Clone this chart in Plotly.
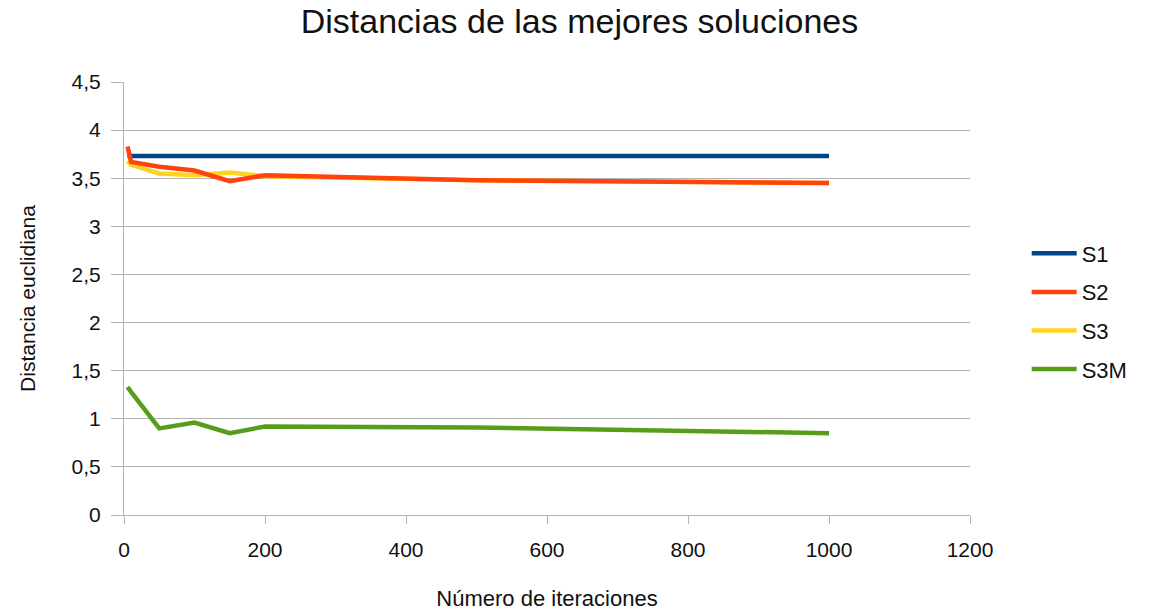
import plotly.graph_objects as go

x_vals = [5, 10, 50, 100, 150, 200, 500, 1000]
s1 = [3.73, 3.73, 3.73, 3.73, 3.73, 3.73, 3.73, 3.73]
s2 = [3.83, 3.67, 3.62, 3.58, 3.47, 3.53, 3.48, 3.45]
s3 = [3.68, 3.64, 3.55, 3.53, 3.56, 3.52, 3.48, 3.45]
s3m = [1.33, 1.28, 0.90, 0.96, 0.85, 0.92, 0.91, 0.85]

names = ["S1", "S2", "S3", "S3M"]
colors = ["#004586", "#ff420e", "#ffd320", "#579d1c"]
series = [s1, s2, s3, s3m]

fig = go.Figure()
# draw order: S1, S3, S2 (S2 over S3), S3M
for i in [0, 2, 1, 3]:
    fig.add_trace(go.Scatter(x=x_vals, y=series[i], mode="lines", name=names[i],
                             legendgroup=names[i], legendrank=i,
                             line=dict(color=colors[i], width=4.5)))

fig.update_layout(
    width=1159, height=615,
    paper_bgcolor="white", plot_bgcolor="white",
    font=dict(family="Liberation Sans, Arial, sans-serif", color="#000000"),
    title=dict(text="Distancias de las mejores soluciones", x=0.5, xanchor="center",
               y=0.966, yanchor="middle", font=dict(size=34, color="#111111")),
    margin=dict(l=124, r=189, t=82, b=100, autoexpand=False),
    xaxis=dict(range=[0, 1200], tickvals=[0, 200, 400, 600, 800, 1000, 1200],
               showgrid=False, showline=True, linecolor="#b3b3b3", linewidth=1,
               ticks="outside", ticklen=8, tickcolor="#b3b3b3",
               ticklabelstandoff=8, automargin=False,
               tickfont=dict(size=21, color="#111111"), zeroline=False,
               title=dict(text="Número de iteraciones", font=dict(size=22, color="#111111"), standoff=30)),
    yaxis=dict(range=[0, 4.5], tickvals=[0, 0.5, 1, 1.5, 2, 2.5, 3, 3.5, 4, 4.5],
               ticktext=["0", "0,5", "1", "1,5", "2", "2,5", "3", "3,5", "4", "4,5"],
               showgrid=True, gridcolor="#b3b3b3", gridwidth=1,
               showline=True, linecolor="#b3b3b3", linewidth=1,
               ticks="outside", ticklen=12, tickcolor="#b3b3b3",
               ticklabelstandoff=6, automargin=False,
               tickfont=dict(size=21, color="#111111"), zeroline=False,
               title=dict(text="Distancia euclidiana", font=dict(size=21, color="#111111"), standoff=30)),
    legend=dict(x=1.067, y=0.47, xanchor="left", yanchor="middle",
                font=dict(size=22, color="#111111"), tracegroupgap=7, itemwidth=45,
                traceorder="grouped"),
    showlegend=True,
)

fig.write_html("out.html")
